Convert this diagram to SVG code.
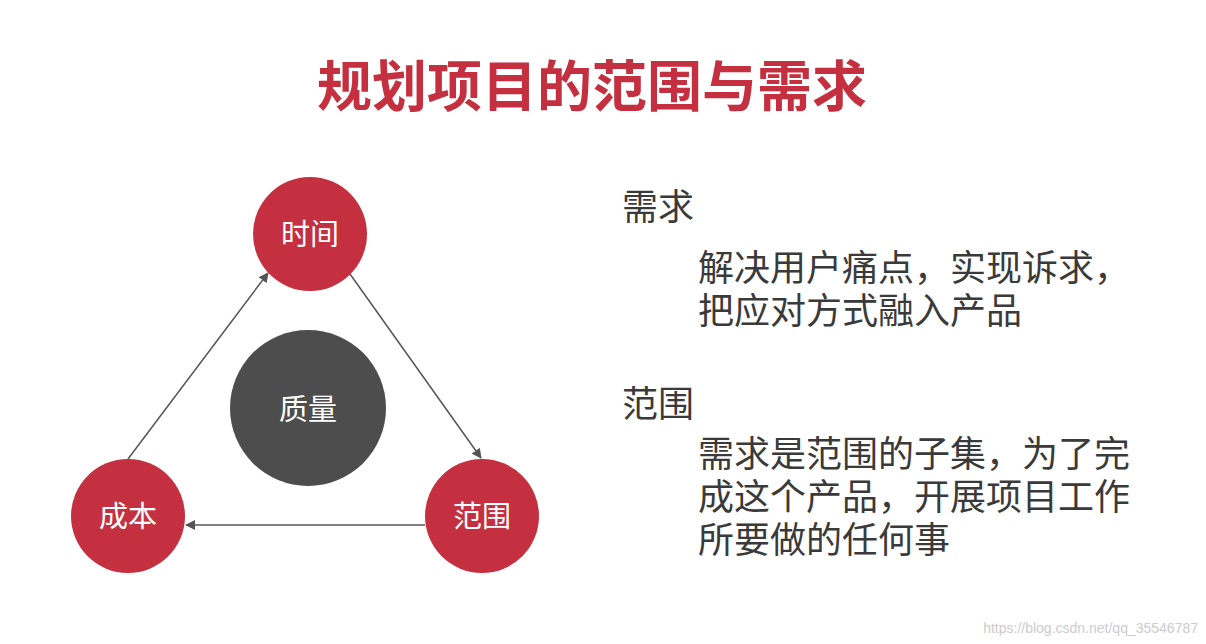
<svg xmlns="http://www.w3.org/2000/svg" width="1206" height="644" viewBox="0 0 1206 644">
<style>
.t{font-family:"Noto Sans CJK SC","Noto Sans",sans-serif}
.red{fill:#c4303f}
.w{fill:#fff;font-size:29px;text-anchor:middle}
.b{fill:#3a3a3a;font-size:36px}
.c{stroke:#555;stroke-width:1.5;fill:none;marker-end:url(#a)}
</style>
<defs><marker id="a" markerWidth="10" markerHeight="10" refX="9" refY="5" orient="auto" markerUnits="userSpaceOnUse"><path d="M0,0 L10,5 L0,10 Z" fill="#555"/></marker></defs>
<rect width="1206" height="644" fill="#fff"/>
<text class="t" x="592" y="106" font-size="55" font-weight="bold" fill="#c4303f" text-anchor="middle">规划项目的范围与需求</text>
<g id="connectors">
<line class="c" x1="128" y1="459" x2="268" y2="273"/>
<line class="c" x1="350" y1="274" x2="481" y2="458"/>
<line class="c" x1="425" y1="525" x2="186" y2="525"/>
</g>
<g id="time"><circle class="red" cx="310" cy="234" r="57"/><text class="t w" x="310" y="245">时间</text></g>
<g id="quality"><circle fill="#4d4d4d" cx="308" cy="408" r="78"/><text class="t w" x="308" y="420" font-size="32">质量</text></g>
<g id="cost"><circle class="red" cx="128" cy="516" r="57"/><text class="t w" x="128" y="527">成本</text></g>
<g id="scope"><circle class="red" cx="482" cy="516" r="57"/><text class="t w" x="482" y="527">范围</text></g>
<g id="notes">
<text class="t b" x="622" y="220">需求</text>
<text class="t b" x="698" y="281">解决用户痛点，实现诉求，</text>
<text class="t b" x="698" y="324">把应对方式融入产品</text>
<text class="t b" x="622" y="417">范围</text>
<text class="t b" x="698" y="467">需求是范围的子集，为了完</text>
<text class="t b" x="698" y="510">成这个产品，开展项目工作</text>
<text class="t b" x="698" y="553">所要做的任何事</text>
</g>
<text x="1198" y="633" font-family="Liberation Sans,sans-serif" font-size="14" fill="#ccc" text-anchor="end">https://blog.csdn.net/qq_35546787</text>
</svg>
